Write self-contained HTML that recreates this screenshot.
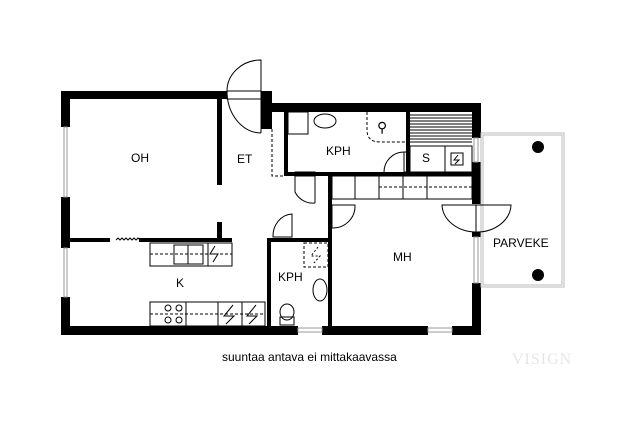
<!DOCTYPE html>
<html><head><style>body{margin:0;background:#fff}svg{display:block}text{font-family:"Liberation Sans",sans-serif}</style></head><body>
<svg width="640" height="427" viewBox="0 0 640 427" xmlns="http://www.w3.org/2000/svg">
<rect width="640" height="427" fill="#fff"/>
<g fill="#000">
<rect x="61" y="91" width="166" height="8"/>
<rect x="261" y="91" width="11" height="8"/>
<rect x="261" y="91" width="11" height="38"/>
<rect x="272" y="103" width="209" height="9"/>
<rect x="472" y="103" width="9" height="35"/>
<rect x="472" y="162" width="9" height="42"/>
<rect x="472" y="232" width="9" height="5"/>
<rect x="472" y="283" width="9" height="52"/>
<rect x="61" y="91" width="9" height="36"/>
<rect x="61" y="197" width="9" height="51"/>
<rect x="61" y="297" width="9" height="38"/>
<rect x="61" y="326" width="237" height="9"/>
<rect x="322" y="326" width="106" height="9"/>
<rect x="452" y="326" width="29" height="9"/>
<rect x="217" y="99" width="5" height="86"/>
<rect x="217" y="222" width="5" height="20"/>
<rect x="70" y="238" width="40" height="4"/>
<rect x="139" y="238" width="93" height="4"/>
<rect x="284" y="103" width="4" height="73"/>
<rect x="284" y="172" width="122" height="4"/>
<rect x="406" y="112" width="4" height="64"/>
<rect x="331" y="172" width="141" height="4"/>
<rect x="328" y="176" width="4" height="156"/>
<rect x="267" y="238" width="4" height="90"/>
<rect x="267" y="238" width="62" height="4"/>
</g>
<g fill="none" stroke="#000" stroke-width="1">
<rect x="64" y="127" width="3" height="70" stroke="#999"/>
<rect x="64" y="248" width="3" height="49" stroke="#999"/>
<rect x="298" y="328" width="24" height="4" stroke="#999"/>
<rect x="428" y="328" width="24" height="4" stroke="#999"/>
<rect x="474" y="138" width="4" height="24" stroke="#999"/>
<rect x="474" y="237" width="4" height="46" stroke="#999"/>
<rect x="481" y="133" width="83" height="154" stroke="#bbb"/>
<rect x="483" y="135" width="79" height="150" stroke="#bbb"/>
<path d="M261 60 A34 31 0 0 0 227 91 L261 91 Z M261 133 A34 42 0 0 1 227 91"/>
<rect x="227" y="91" width="34" height="8"/>
<line x1="261" y1="60" x2="261" y2="133"/>
<path d="M272 129 V176 H284" stroke-dasharray="3,2"/>
<path d="M295 176 V192 A20 20 0 0 0 315 203 M315 176 V203"/>
<rect x="295" y="172" width="20" height="4"/>
<path d="M273 237 A20 22 0 0 1 292 214 V237 Z"/>
<path d="M332 205 V228 A22 22 0 0 0 355 205 Z"/>
<path d="M384 172 A20 20 0 0 1 404 152 V172"/>
<rect x="404" y="152" width="3" height="20"/>
<path d="M442 205 A34 28 0 0 0 476 232 A34 28 0 0 0 511 205 Z"/>
<line x1="476" y1="205" x2="476" y2="232"/>
<rect x="332" y="176" width="140" height="23"/>
<line x1="355" y1="176" x2="355" y2="199"/><line x1="379" y1="176" x2="379" y2="199"/><line x1="403" y1="176" x2="403" y2="199"/><line x1="427" y1="176" x2="427" y2="199"/>
<line x1="379" y1="187" x2="472" y2="187" stroke-dasharray="3,2"/>
<path d="M410 115 H472 M410 118 H472 M410 121 H472 M410 124 H472 M410 127 H472 M410 130 H472 M410 133 H472 M410 136 H472 M410 139 H472 M410 142 H472"/>
<rect x="410" y="146" width="62" height="26"/>
<line x1="445" y1="146" x2="445" y2="172"/>
<rect x="451" y="153" width="12" height="12"/>
<path d="M458 155 L454 160 H459 L455 164"/>
<rect x="288" y="112" width="20" height="22"/>
<ellipse cx="325" cy="121" rx="11" ry="7"/>
<path d="M367 112 V130 Q367 142 380 142 H406" stroke-dasharray="3,2"/>
<text x="377" y="132" font-size="14" stroke="none" fill="#000">&#x26B2;</text>
<rect x="150" y="243" width="82" height="23"/>
<line x1="150" y1="254" x2="232" y2="254" stroke-dasharray="3,2"/>
<rect x="174" y="245" width="29" height="19"/><line x1="188" y1="245" x2="188" y2="264"/>
<line x1="208" y1="243" x2="208" y2="266"/>
<path d="M215 246 L210 254 H218 L213 262"/>
<rect x="150" y="302" width="115" height="24"/>
<line x1="150" y1="314" x2="265" y2="314" stroke-dasharray="3,2"/>
<line x1="186" y1="302" x2="186" y2="326"/><line x1="218" y1="302" x2="218" y2="326"/><line x1="242" y1="302" x2="242" y2="326"/>
<circle cx="168" cy="308" r="3"/><circle cx="179" cy="308" r="3"/><circle cx="168" cy="320" r="3"/><circle cx="179" cy="320" r="3"/>
<path d="M233 305 L224 316 H234 L226 324 M256 305 L247 316 H257 L249 324"/>
<path d="M116 240 l2 -2 l2 2 l2 -2 l2 2 l2 -2 l2 2 l2 -2 l2 2 l2 -2 l2 2 l2 -2 l2 2"/>
<rect x="304" y="243" width="24" height="24" stroke-dasharray="3,2"/>
<path d="M318 247 L311 256 H320 L314 263" stroke-dasharray="2,2"/>
<ellipse cx="320" cy="290" rx="7" ry="11"/>
<ellipse cx="287" cy="312" rx="7" ry="8"/>
<rect x="280" y="317" width="14" height="8"/>
</g>
<circle cx="538" cy="147" r="6"/><circle cx="538" cy="275" r="6"/>
<g font-size="12" fill="#000">
<text x="131" y="162">OH</text>
<text x="237" y="163">ET</text>
<text x="326" y="155">KPH</text>
<text x="422" y="162">S</text>
<text x="176" y="287">K</text>
<text x="278" y="281">KPH</text>
<text x="393" y="261">MH</text>
<text x="493" y="247">PARVEKE</text>
<text x="222" y="361">suuntaa antava ei mittakaavassa</text>
</g>
<text x="512" y="364" font-size="16" fill="#e6e6e6" style="font-family:'Liberation Serif',serif" letter-spacing="1">VISIGN</text>
</svg>
</body></html>
